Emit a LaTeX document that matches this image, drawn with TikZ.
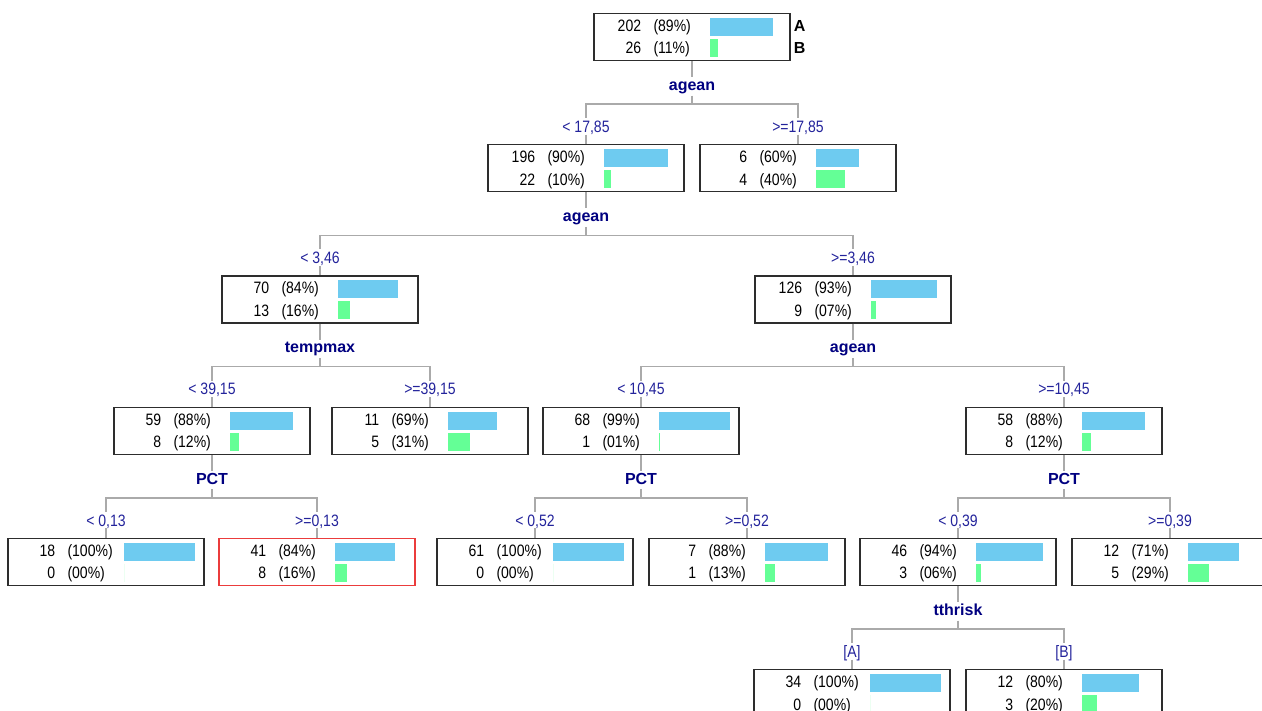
\documentclass[tikz,border=0pt]{standalone}
\usepackage{fontspec}
\setmainfont{Liberation Sans}
\newfontfamily\boxfont[FakeStretch=0.85]{Liberation Sans}
\usetikzlibrary{positioning,calc}

\definecolor{barblue}{RGB}{110,203,240}
\definecolor{bargreen}{RGB}{100,255,150}
\definecolor{splitnavy}{RGB}{0,0,128}
\definecolor{condblue}{RGB}{35,35,155}
\definecolor{edgegray}{RGB}{170,170,170}
\definecolor{boxline}{RGB}{45,45,45}
\definecolor{hitred}{RGB}{235,60,60}

\tikzset{
  dtbox/.style={rectangle, minimum width=196pt, minimum height=47pt, inner sep=0pt, line width=1.4pt},
  cnt/.style={anchor=east, inner sep=0pt, text height=12pt, text depth=0pt, font=\boxfont\fontsize{16.5}{18}\selectfont},
  pct/.style={cnt, anchor=west},
  split/.style={inner sep=2pt, text height=11pt, text depth=3pt, text=splitnavy, font=\bfseries\fontsize{16}{18}\selectfont},
  cond/.style={inner sep=2pt, text height=12pt, text depth=0pt, text=condblue, font=\boxfont\fontsize{16.5}{18}\selectfont},
  legend/.style={anchor=west, inner sep=0pt, text height=12pt, text depth=0pt, font=\bfseries\fontsize{16}{18}\selectfont},
  edge/.style={draw=edgegray, line width=1.3pt},
  barA/.style={fill=barblue},
  barB/.style={fill=bargreen}
}

% #1 border, #2 name, #3 centre x, #4 top y, #5/#6 count/pct of A, #7/#8 count/pct of B
\newcommand{\dtnode}[8][boxline]{%
  \node[dtbox, draw=#1] (#2) at (#3,{#4+23.5}) {};
  \node[cnt] at ($(#2.north west)+(48,12.5)$) {#5};
  \node[pct] at ($(#2.north west)+(60,12.5)$) {(#6\%)};
  \node[cnt] at ($(#2.north west)+(48,35)$) {#7};
  \node[pct] at ($(#2.north west)+(60,35)$) {(#8\%)};
  \fill[barA] ($(#2.north west)+(117,5)$) rectangle ++({0.71*#6},18);
  \fill[barB] ($(#2.north west)+(117,26)$) rectangle ++({0.71*#8},18);
}

\begin{document}
\begin{tikzpicture}[x=1pt, y=-1pt]
    \useasboundingbox (0,0) rectangle (1262,711);

    \dtnode{n0}{692}{13.5}{202}{89}{26}{11}
    \node[legend] (la) at ($(n0.north east)+(3,12.5)$) {A};
    \node[legend] (lb) at ($(n0.north east)+(3,35)$) {B};

    \dtnode{n1}{586}{144.75}{196}{90}{22}{10}
    \dtnode{n2}{798}{144.75}{6}{60}{4}{40}
    \dtnode{n3}{320}{276}{70}{84}{13}{16}
    \dtnode{n4}{853}{276}{126}{93}{9}{07}
    \dtnode{n5}{212}{407.25}{59}{88}{8}{12}
    \dtnode{n6}{430}{407.25}{11}{69}{5}{31}
    \dtnode{n7}{641}{407.25}{68}{99}{1}{01}
    \dtnode{n8}{1064}{407.25}{58}{88}{8}{12}
    \dtnode{n9}{106}{538.5}{18}{100}{0}{00}
    \dtnode[hitred]{n10}{317}{538.5}{41}{84}{8}{16}
    \dtnode{n11}{535}{538.5}{61}{100}{0}{00}
    \dtnode{n12}{747}{538.5}{7}{88}{1}{13}
    \dtnode{n13}{958}{538.5}{46}{94}{3}{06}
    \dtnode{n14}{1170}{538.5}{12}{71}{5}{29}
    \dtnode{n15}{852}{669.75}{34}{100}{0}{00}
    \dtnode{n16}{1064}{669.75}{12}{80}{3}{20}

    \node[split, below=16pt of n0] (s0) {agean};
    \node[split, below=16pt of n1] (s1) {agean};
    \node[split, below=16pt of n3] (s3) {tempmax};
    \node[split, below=16pt of n4] (s4) {agean};
    \node[split, below=16pt of n5] (s5) {PCT};
    \node[split, below=16pt of n7] (s7) {PCT};
    \node[split, below=16pt of n8] (s8) {PCT};
    \node[split, below=16pt of n13] (s13) {tthrisk};

    \foreach \s in {0,1,3,4,5,7,8,13}
        \coordinate[below=8.5pt of s\s] (j\s);

    \node[cond, above=9.5pt of n1] (c1) {< 17,85};
    \node[cond, above=9.5pt of n2] (c2) {>=17,85};
    \node[cond, above=9.5pt of n3] (c3) {< 3,46};
    \node[cond, above=9.5pt of n4] (c4) {>=3,46};
    \node[cond, above=9.5pt of n5] (c5) {< 39,15};
    \node[cond, above=9.5pt of n6] (c6) {>=39,15};
    \node[cond, above=9.5pt of n7] (c7) {< 10,45};
    \node[cond, above=9.5pt of n8] (c8) {>=10,45};
    \node[cond, above=9.5pt of n9] (c9) {< 0,13};
    \node[cond, above=9.5pt of n10] (c10) {>=0,13};
    \node[cond, above=9.5pt of n11] (c11) {< 0,52};
    \node[cond, above=9.5pt of n12] (c12) {>=0,52};
    \node[cond, above=9.5pt of n13] (c13) {< 0,39};
    \node[cond, above=9.5pt of n14] (c14) {>=0,39};
    \node[cond, above=9.5pt of n15] (c15) {[A]};
    \node[cond, above=9.5pt of n16] (c16) {[B]};

    \foreach \p/\a/\b in {0/1/2, 1/3/4, 3/5/6, 4/7/8, 5/9/10, 7/11/12, 8/13/14, 13/15/16} {
        \draw[edge] (n\p) -- (s\p) -- (j\p);
        \draw[edge] (j\p) -| (c\a) (j\p) -| (c\b);
        \draw[edge] (c\a) -- (n\a) (c\b) -- (n\b);
    }
\end{tikzpicture}
\end{document}
